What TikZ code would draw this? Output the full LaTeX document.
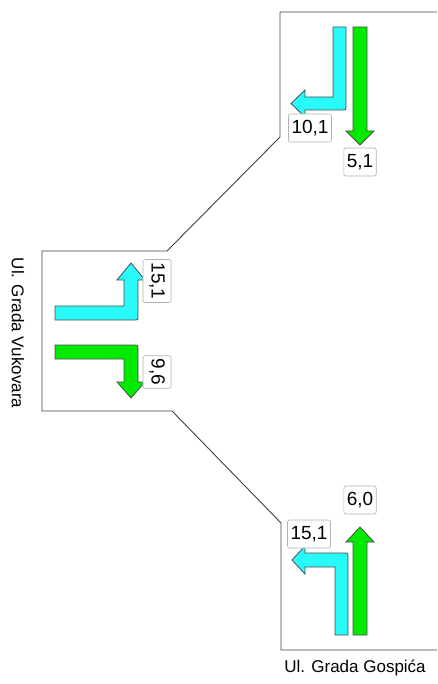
\documentclass[tikz,border=0pt]{standalone}
\usepackage{fontspec}
\setmainfont{Liberation Sans}
\definecolor{lanecyan}{RGB}{40,250,250}
\definecolor{lanegreen}{RGB}{0,235,0}
\begin{document}
\begin{tikzpicture}[x=1pt,y=-1pt,
  outline/.style={draw=black!75,line width=0.9pt},
  cyanarrow/.style={draw=black!70,line width=0.8pt,fill=lanecyan,line join=miter},
  greenarrow/.style={draw=black!70,line width=0.8pt,fill=lanegreen,line join=miter},
  lbl/.style={draw=gray!60,line width=0.6pt,rounded corners=2pt,fill=white,inner xsep=3pt,inner ysep=0pt,minimum height=28pt,font=\fontsize{19}{21}\selectfont},
  road/.style={font=\fontsize{17}{19}\selectfont,inner sep=0pt}]
\useasboundingbox (0,0) rectangle (437,684);
% outline of junction
\draw[outline] (437,12) -- (280,12) -- (280,137) -- (167,251) -- (42,251) -- (42,411) -- (172,411) -- (281,523) -- (281,650) -- (437,650);
% top box arrows
\draw[cyanarrow] (333,27) -- (346,27) -- (346,107) .. controls (346,110) .. (343,110) -- (305,110) -- (305,117) -- (291,103.5) -- (305,90) -- (305,97) -- (333,97) -- cycle;
\draw[greenarrow] (353,27) -- (367,27) -- (367,131) -- (374,131) -- (360,145) -- (346,131) -- (353,131) -- cycle;
% middle box arrows
\draw[cyanarrow] (55,306) -- (124,306) -- (124,280) -- (117,280) -- (131,263) -- (145,280) -- (138,280) -- (138,317) .. controls (138,320) .. (135,320) -- (55,320) -- cycle;
\draw[greenarrow] (55,345) -- (135,345) .. controls (138,345) .. (138,348) -- (138,382) -- (145,382) -- (131,398) -- (117,382) -- (124,382) -- (124,359) -- (55,359) -- cycle;
% bottom box arrows
\draw[cyanarrow] (335,635) -- (348,635) -- (348,556) .. controls (348,553) .. (345,553) -- (305,553) -- (305,546) -- (292,560) -- (305,574) -- (305,567) -- (335,567) -- cycle;
\draw[greenarrow] (353,635) -- (367,635) -- (367,542) -- (374,542) -- (360,527) -- (346,542) -- (353,542) -- cycle;
% labels
\node[lbl] (l1) at (310,128) {10,1};
\node[lbl] (l2) at (360,162) {5,1};
\node[lbl,rotate=-90] (l3) at (157,281) {15,1};
\node[lbl,rotate=-90] (l4) at (157,372) {9,6};
\node[lbl] (l5) at (309,534) {15,1};
\node[lbl] (l6) at (360,500) {6,0};
\node[road,rotate=-90] (r1) at (18,333) {Ul. Grada Vukovara};
\node[road] (r2) at (355,668) {Ul. Grada Gospića};
\end{tikzpicture}
\end{document}
